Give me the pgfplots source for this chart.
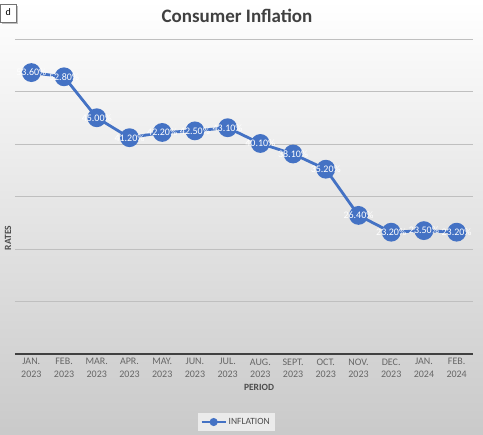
\documentclass[border=0pt]{standalone}
\usepackage{pgfplots}
\pgfplotsset{compat=1.18}
\usepackage{fontspec}
\setmainfont{Carlito}
\definecolor{blu}{HTML}{4472C4}
\begin{document}
\begin{tikzpicture}[x=1pt,y=1pt]
\shade[top color=white, bottom color=black!21] (0,0) rectangle (483,435);
\fill[black!25] (2,411) rectangle (18,429);
\draw[black!55,fill=white] (0.4,413) rectangle (16,431);
\node[anchor=west, font=\fontsize{10}{12}\selectfont] at (2,423) {d};
\node[font=\fontsize{19}{22}\selectfont\bfseries, text=black!75] at (237,419) {Consumer Inflation};
\node[font=\fontsize{9.5}{10}\selectfont\bfseries, text=black!70] at (259,48) {PERIOD};
\node[font=\fontsize{9.5}{10}\selectfont\bfseries, text=black!70, rotate=90] at (8,197) {RATES};
\begin{axis}[
  /pgf/number format/assume math mode=true,
  at={(15pt,81pt)}, anchor=south west,
  scale only axis, width=458pt, height=315pt,
  xmin=-0.5, xmax=13.5, ymin=0, ymax=60,
  ytick={10,20,...,60}, yticklabels={},
  ymajorgrids, grid style={black!25, line width=0.7pt},
  axis x line*=bottom, axis y line*=left,
  y axis line style={draw=none},
  x axis line style={draw=black!75, line width=1.6pt, -},
  major tick length=0pt,
  xtick={0,...,13},
  xticklabels={JAN.\\2023,FEB.\\2023,MAR.\\2023,APR.\\2023,MAY.\\2023,JUN.\\2023,JUL.\\2023,AUG.\\2023,SEPT.\\2023,OCT.\\2023,NOV.\\2023,DEC.\\2023,JAN.\\2024,FEB.\\2024},
  x tick label style={font=\fontsize{10}{12.5}\selectfont, text=black!60, align=center, yshift=-1pt},
  clip=false,
  legend style={at={(0.483,-0.216)}, anchor=center, fill=black!8, draw=none,
    font=\fontsize{9.5}{10}\selectfont, text=black!70, inner sep=3pt},
  legend image code/.code={\draw[#1, line width=2pt, mark size=3pt, mark repeat=2, mark phase=2] plot coordinates {(0pt,0pt) (12pt,0pt) (24pt,0pt)};},
]
\addplot[blu, line width=2.8pt, mark=*, mark size=8pt, mark options={fill=blu, draw=blu},
  nodes near coords={\pgfmathprintnumber[fixed,fixed zerofill,precision=2]{\pgfplotspointmeta}\%},
  nodes near coords style={anchor=center, text=white, font=\fontsize{10}{11}\selectfont}]
  coordinates {(0,53.6) (1,52.8) (2,45.0) (3,41.2) (4,42.2) (5,42.5) (6,43.1) (7,40.1) (8,38.1) (9,35.2) (10,26.4) (11,23.2) (12,23.5) (13,23.2)};
\addlegendentry{INFLATION}
\end{axis}
\end{tikzpicture}
\end{document}
